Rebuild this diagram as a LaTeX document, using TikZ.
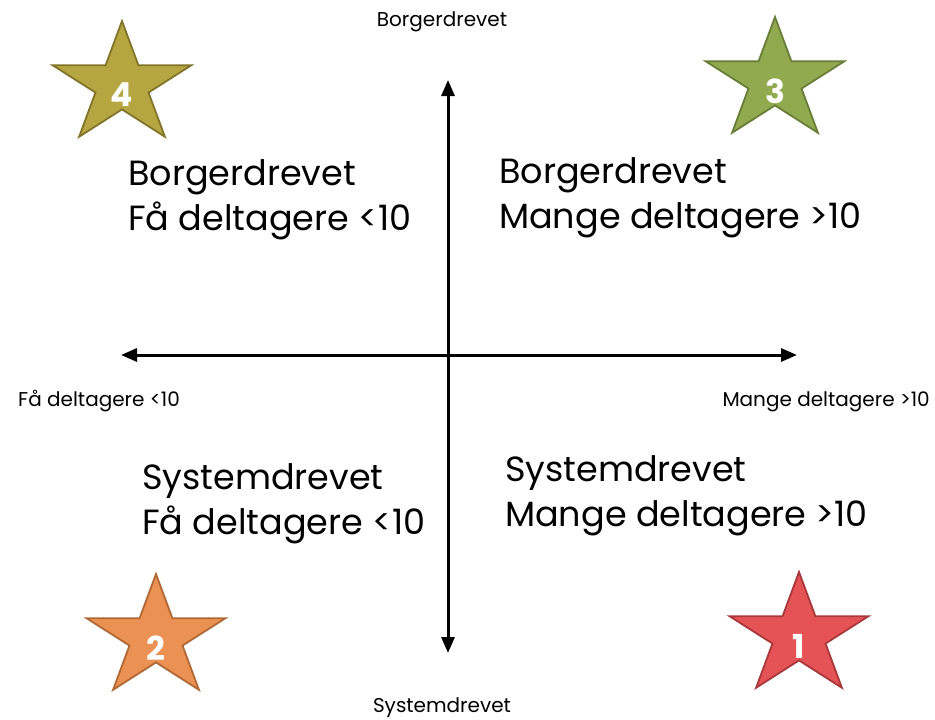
\documentclass[tikz,border=0pt]{standalone}
\usepackage{fontspec}
\setmainfont{Poppins}
\usetikzlibrary{arrows.meta}
\definecolor{s4fill}{RGB}{181,166,66}
\definecolor{s4line}{RGB}{130,117,42}
\definecolor{s3fill}{RGB}{145,170,80}
\definecolor{s3line}{RGB}{104,126,54}
\definecolor{s2fill}{RGB}{234,145,83}
\definecolor{s2line}{RGB}{176,104,52}
\definecolor{s1fill}{RGB}{229,83,86}
\definecolor{s1line}{RGB}{168,56,58}
\tikzset{
  axis/.style={line width=3pt,-{Triangle[length=16pt,width=13pt]}},
  small/.style={font=\fontsize{20}{24}\selectfont,inner sep=0pt,anchor=base},
  big/.style={font=\fontsize{35}{45}\selectfont,inner sep=0pt,anchor=base west},
  num/.style={font=\fontsize{33}{33}\selectfont\bfseries,text=white,inner sep=0pt},
  starshape/.style={line width=1.8pt,line join=miter},
}
\begin{document}
\begin{tikzpicture}[x=1pt,y=-1pt]
\useasboundingbox (0,0) rectangle (935,720);
\coordinate (vt) at (448,80);
\coordinate (vb) at (448,653);
\coordinate (hl) at (121,355);
\coordinate (hr) at (797,355);
\coordinate (c) at (448,355);
\draw[axis] (c) -- (vt);
\draw[axis] (c) -- (vb);
\draw[axis] (c) -- (hl);
\draw[axis] (c) -- (hr);

\node[small] (ltop) at (442,27) {Borgerdrevet};
\node[small] (lbot) at (442,712) {Systemdrevet};
\node[small,anchor=base west] (lleft) at (18,406) {Få deltagere <10};
\node[small,anchor=base east] (lright) at (930,406) {Mange deltagere >10};

\node[big] (q4a) at (128,185) {Borgerdrevet};
\node[big] (q4b) at (128,230) {Få deltagere <10};
\node[big] (q3a) at (499,183) {Borgerdrevet};
\node[big] (q3b) at (499,228) {Mange deltagere >10};
\node[big] (q2a) at (142,489) {Systemdrevet};
\node[big] (q2b) at (142,534) {Få deltagere <10};
\node[big] (q1a) at (505,481) {Systemdrevet};
\node[big] (q1b) at (505,526) {Mange deltagere >10};

\foreach \cx/\cy/\f/\l/\n in {122/85/s4fill/s4line/4, 775/81/s3fill/s3line/3, 156/638/s2fill/s2line/2, 799/636/s1fill/s1line/1}{
  \filldraw[starshape,fill=\f,draw=\l]
    (\cx,\cy-64)
    \foreach \k in {1,...,9}{
      -- ({\cx+(mod(\k,2)==1 ? 27.9 : 73)*cos(90+36*\k)},{\cy-(mod(\k,2)==1 ? 24.4 : 64)*sin(90+36*\k)})
    } -- cycle;
  \node[num] (star\n) at (\cx,\cy+10) {\n};
}
\end{tikzpicture}
\end{document}
